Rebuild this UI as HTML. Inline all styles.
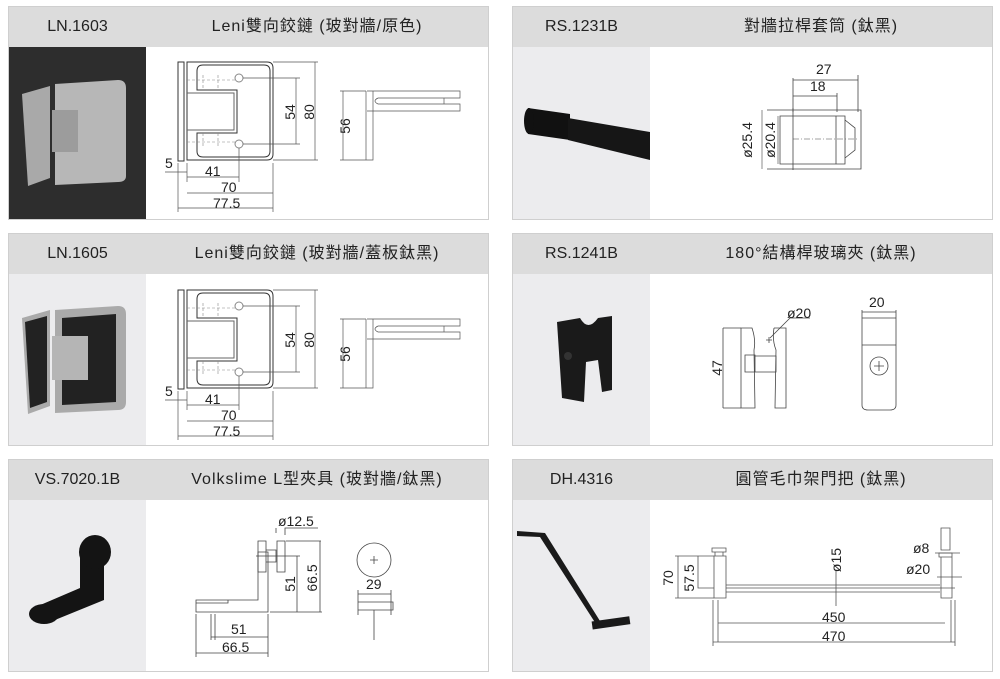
<!DOCTYPE html>
<html><head><meta charset="utf-8"><style>
html,body{margin:0;padding:0;background:#fff;width:1000px;height:679px;overflow:hidden;font-family:"Liberation Sans","Noto Sans CJK TC",sans-serif}
.card{position:absolute;border:1px solid #cfcfcf;background:#fff;box-sizing:border-box}
.hd{position:absolute;left:0;top:0;right:0;height:40px;background:#dcdcdc;font-size:16px;color:#222;line-height:40px}
.code{position:absolute;left:0;width:137px;text-align:center;top:0}
.title{position:absolute;left:137px;right:0;text-align:center;top:0;letter-spacing:1px}
.ph{position:absolute;left:0;top:40px;width:137px;bottom:0;background:#ececee}
svg{position:absolute;left:0;top:0}
</style></head><body>
<div class="card" style="left:8px;top:6px;width:481px;height:214px"><div class="hd"><div class="code">LN.1603</div><div class="title">Leni雙向鉸鏈 (玻對牆/原色)</div></div><div class="ph" style="background:#2d2d2d"></div></div>
<div class="card" style="left:512px;top:6px;width:481px;height:214px"><div class="hd"><div class="code">RS.1231B</div><div class="title">對牆拉桿套筒 (鈦黑)</div></div><div class="ph"></div></div>
<div class="card" style="left:8px;top:233px;width:481px;height:213px"><div class="hd"><div class="code">LN.1605</div><div class="title">Leni雙向鉸鏈 (玻對牆/蓋板鈦黑)</div></div><div class="ph"></div></div>
<div class="card" style="left:512px;top:233px;width:481px;height:213px"><div class="hd"><div class="code">RS.1241B</div><div class="title">180°結構桿玻璃夾 (鈦黑)</div></div><div class="ph"></div></div>
<div class="card" style="left:8px;top:459px;width:481px;height:213px"><div class="hd"><div class="code">VS.7020.1B</div><div class="title">Volkslime L型夾具 (玻對牆/鈦黑)</div></div><div class="ph"></div></div>
<div class="card" style="left:512px;top:459px;width:481px;height:213px"><div class="hd"><div class="code">DH.4316</div><div class="title">圓管毛巾架門把 (鈦黑)</div></div><div class="ph"></div></div>

<svg width="1000" height="679" font-family="Liberation Sans, sans-serif" font-size="14" fill="none" stroke="#333" stroke-width="1">
<defs>
<g id="hinge">
 <rect x="178" y="62" width="6" height="99" fill="#fff"/>
 <path d="M187,62 H267 Q273,62 273,68 V154 Q273,160 267,160 H187 Z" fill="#fff"/>
 <path d="M203,65 H264 Q270,65 270,71 V151 Q270,157 264,157 H203 Q197,157 197,151 V133 H237 V90 H197 V71 Q197,65 203,65 Z"/>
 <path d="M187,93 H234 V130 H187" stroke="#666"/>
 <circle cx="239" cy="78" r="4" stroke="#888"/><circle cx="239" cy="144" r="4" stroke="#888"/>
 <g stroke="#888" stroke-width="0.6" stroke-dasharray="3,2"><path d="M187,80 H235 M187,142 H235 M203,75 V90 M218,75 V90 M203,133 V148 M218,133 V148"/></g>
 <g stroke="#555" stroke-width="0.7">
  <path d="M243,78 H300 M243,144 H300 M296,78 V144 M273,62 H318 M273,160 H318 M315,62 V160"/>
  <path d="M178,163 V212 M187,163 V182 M239,148 V182 M273,163 V212 M187,177 H239 M187,193 H273 M178,208 H273 M165,172 H187"/>
  <path d="M367,91 H460 V98 H378 M378,104 H460 V111 H367 M378,98 Q372,101 378,104 M444,98 V104 M366,91 V160 H373 V91 M340,91 H366 M340,160 H366 M343,91 V160"/>
 </g>
 <g fill="#222" stroke="none">
  <text x="165" y="168">5</text><text x="205" y="176">41</text><text x="221" y="192">70</text><text x="213" y="208">77.5</text>
  <text transform="translate(295,112) rotate(-90)" text-anchor="middle">54</text>
  <text transform="translate(314,112) rotate(-90)" text-anchor="middle">80</text>
  <text transform="translate(350,126) rotate(-90)" text-anchor="middle">56</text>
 </g>
</g>
</defs>
<use href="#hinge"/>
<use href="#hinge" transform="translate(0,228)"/>

<!-- photo LN1603 -->
<g stroke="none">
 <path d="M22,94 L50,86 V178 L28,186 Z" fill="#a9a9a9"/>
 <path d="M55,84 L118,80 Q126,80 126,88 V176 Q126,182 118,182 L55,185 Z" fill="#b7b7b7"/>
 <path d="M52,110 H78 V152 H52 Z" fill="#9c9c9c"/>
</g>
<!-- photo LN1605 -->
<g stroke="none">
 <path d="M22,318 L50,310 V406 L28,414 Z" fill="#aaa"/><path d="M25,322 L47,316 V402 L30,408 Z" fill="#222"/>
 <path d="M55,310 L118,306 Q126,306 126,314 V402 Q126,410 118,410 L55,413 Z" fill="#aaa"/>
 <path d="M62,318 L116,314 V402 L62,405 Z" fill="#222"/>
 <path d="M52,336 H88 V380 H52 Z" fill="#b5b5b5"/>
</g>
<!-- rod photo -->
<g stroke="none">
 <path d="M528,108 L570,114 V140 L528,134 Z" fill="#111"/><ellipse cx="529" cy="121" rx="5" ry="13" fill="#111"/>
 <path d="M568,118 L650,132 V160 L568,140 Z" fill="#161616"/>
</g>
<!-- clamp photo -->
<g stroke="none" fill="#1a1a1a">
 <path d="M557,322 L580,318 Q588,332 598,318 L612,316 V390 L602,392 L598,360 L586,362 L584,402 L562,398 Z"/>
 <circle cx="568" cy="356" r="4" fill="#333"/>
</g>
<!-- L clamp photo -->
<g stroke="none" fill="#141414">
 <path d="M80,548 L104,548 V600 L50,622 L38,606 L80,588 Z"/>
 <ellipse cx="95" cy="552" rx="16" ry="17"/><ellipse cx="44" cy="614" rx="15" ry="10"/>
</g>
<!-- towel bar photo -->
<g stroke="none" fill="#1a1a1a">
 <path d="M517,531 L545,533 L600,621 L596,624 L540,537 L517,536 Z"/>
 <rect x="592" y="619" width="38" height="8" transform="rotate(-8 610 623)"/>
</g>

<!-- RS1231B drawing -->
<g stroke="#444" stroke-width="0.8">
 <path d="M793,80 H858 M793,96 H837 M793,78 V112 M858,75 V112 M837,93 V112"/>
 <path d="M767,110 H861 V169 H767 M780,116 H836 V164 H780 Z M793,108 V170 M836,116 H845 V164 H836 M845,120 L855,128 V150 L845,158"/>
 <path d="M778,116 V164 M762,110 V169" stroke-width="0.6"/>
 <path d="M793,139 H858" stroke-dasharray="6,2,1,2" stroke-width="0.6"/>
</g>
<g fill="#222" stroke="none" font-size="14">
 <text x="816" y="74">27</text><text x="810" y="91">18</text>
 <text transform="translate(752,140) rotate(-90)" text-anchor="middle">ø25.4</text>
 <text transform="translate(775,140) rotate(-90)" text-anchor="middle">ø20.4</text>
</g>
<!-- RS1241B -->
<g stroke="#444" stroke-width="0.8">
 <path d="M723,328 V408 M723,328 H741 M723,408 H741"/>
 <path d="M741,328 H752 Q756,340 754,350 L755,408 H741 Z M774,328 H786 V408 H775 L776,350 Q772,340 774,328"/>
 <path d="M755,356 H776 V372 H755 Z M745,355 H755 V372 H745 Z"/>
 <path d="M766,340 H772 M769,337 V343 M770,338 L790,318 H810"/>
 <path d="M862,318 H896 V405 Q896,410 890,410 H868 Q862,410 862,405 Z M862,345 H896 M862,310 V318 M896,310 V318 M862,312 H896"/>
 <circle cx="879" cy="366" r="9"/><path d="M874,366 H884 M879,361 V371"/>
</g>
<g fill="#222" stroke="none" font-size="14"><text x="787" y="318">ø20</text><text x="869" y="307">20</text>
<text transform="translate(722,368) rotate(-90)" text-anchor="middle">47</text></g>
<!-- VS7020 -->
<g stroke="#444" stroke-width="0.8">
 <path d="M196,612 H268 V552 H258 V600 H196 Z M196,600 H228 V603 H196 Z"/>
 <path d="M258,541 H266 V572 H258 Z M266,550 H276 V562 H266 Z M277,541 H285 V572 H277 Z"/>
 <path d="M276,533 V528 M285,535 V528 H318 M256,556 H300 M286,541 H321 M297,556 V612 M320,541 V612 M270,612 H322"/>
 <path d="M211,614 V640 M215,614 V640 M196,614 V657 M268,614 V657 M211,637 H268 M196,653 H268"/>
 <circle cx="374" cy="560" r="17"/><path d="M358,602 H393 V610 H358 Z M358,590 V615 M391,590 V615 M358,594 H391 M374,610 V640 M370,560 H378 M374,556 V564"/>
</g>
<g fill="#222" stroke="none" font-size="14"><text x="278" y="526">ø12.5</text><text x="231" y="634">51</text><text x="222" y="652">66.5</text><text x="366" y="589">29</text>
<text transform="translate(295,584) rotate(-90)" text-anchor="middle">51</text>
<text transform="translate(317,578) rotate(-90)" text-anchor="middle">66.5</text></g>
<!-- DH4316 -->
<g stroke="#555" stroke-width="0.8">
 <path d="M712,548 H726 V552 H712 Z M715,552 H723 V556 H715 Z M714,556 H726 V598 H714 Z"/>
 <path d="M726,585 H940 M726,592 H940 M726,588 H955" />
 <path d="M941,528 H950 V550 H941 Z M939,553 H952 V557 H939 Z M941,557 H952 V598 H941 Z"/>
 <path d="M675,556 H714 M675,598 H714 M678,556 V598 M698,556 V588 H714 M836,570 V606"/>
 <path d="M718,600 V642 M951,600 V642 M718,623 H945 M713,600 V646 M955,600 V646 M713,642 H955"/>
 <path d="M935,553 H960 M937,577 H962"/>
</g>
<g fill="#222" stroke="none" font-size="14"><text x="822" y="622">450</text><text x="822" y="641">470</text><text x="913" y="553">ø8</text><text x="906" y="574">ø20</text>
<text transform="translate(673,578) rotate(-90)" text-anchor="middle">70</text>
<text transform="translate(694,578) rotate(-90)" text-anchor="middle">57.5</text>
<text transform="translate(841,560) rotate(-90)" text-anchor="middle">ø15</text></g>
</svg>
</body></html>
